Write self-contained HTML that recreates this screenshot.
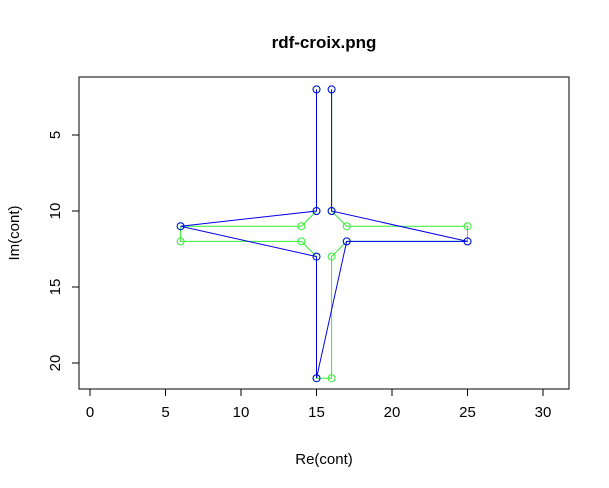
<!DOCTYPE html>
<html><head><meta charset="utf-8"><style>
body{margin:0;background:#fff}
svg{display:block;font-family:"Liberation Sans",sans-serif}
</style></head><body>
<svg id="chart" width="609" height="488">
<text x="324" y="48" text-anchor="middle" font-size="17" font-weight="bold">rdf-croix.png</text>
<rect x="79" y="77" width="490" height="312" fill="none" stroke="#000"/>
<text x="324" y="464" text-anchor="middle" font-size="15">Re(cont)</text>
<text transform="translate(19,233) rotate(-90)" text-anchor="middle" font-size="15">Im(cont)</text>
<g id="axes"></g><g id="marks"></g>
</svg>
<script>
const xTicks=[0,5,10,15,20,25,30];
const yTicks=[5,10,15,20];
const blueX=[15,15,6,15,15,17,25,16,16];
const blueY=[2,10,11,13,21,12,12,10,2];
const greenX=[16,16,17,25,25,17,16,16,15,15,14,6,6,14,15,15];
const greenY=[2,10,11,11,12,12,13,21,21,13,12,12,11,11,10,2];
const sx=v=>90+v*15.1;
const sy=v=>135+(v-5)*15.2;
const NS="http://www.w3.org/2000/svg";
const axes=document.getElementById('axes'),marks=document.getElementById('marks');
function mk(tag,attrs,parent){const e=document.createElementNS(NS,tag);for(const k in attrs)e.setAttribute(k,attrs[k]);parent.appendChild(e);return e;}
mk('line',{x1:sx(xTicks[0]),x2:sx(xTicks[xTicks.length-1]),y1:389,y2:389,stroke:'#000'},axes);
xTicks.forEach(t=>{
  const l=mk('line',{x1:sx(t),x2:sx(t),y1:389,y2:396,stroke:'#000'},axes);
  
  
  const tx=mk('text',{x:sx(t),y:417,'text-anchor':'middle','font-size':15},axes);tx.textContent=t;
  
  
});
mk('line',{x1:79,x2:79,y1:sy(yTicks[0]),y2:sy(yTicks[yTicks.length-1]),stroke:'#000'},axes);
yTicks.forEach(t=>{
  const l=mk('line',{x1:72,x2:79,y1:sy(t),y2:sy(t),stroke:'#000'},axes);
  
  
  const tx=mk('text',{transform:`translate(60,${sy(t)}) rotate(-90)`,'text-anchor':'middle','font-size':15},axes);tx.textContent=t;
  
  
});
function series(X,Y,col,name){
  const p=mk('polyline',{points:X.map((x,i)=>sx(x)+','+sy(Y[i])).join(' '),fill:'none',stroke:col,'stroke-width':1},marks);
  
  
  X.forEach((x,i)=>{
    const c=mk('circle',{cx:sx(x),cy:sy(Y[i]),r:3.5,fill:'none',stroke:col,'stroke-width':1},marks);
    
    
  });
}
series(greenX,greenY,'#33ee33','green-contour');
series(blueX,blueY,'#0000ee','blue-contour');
</script>
</body></html>
